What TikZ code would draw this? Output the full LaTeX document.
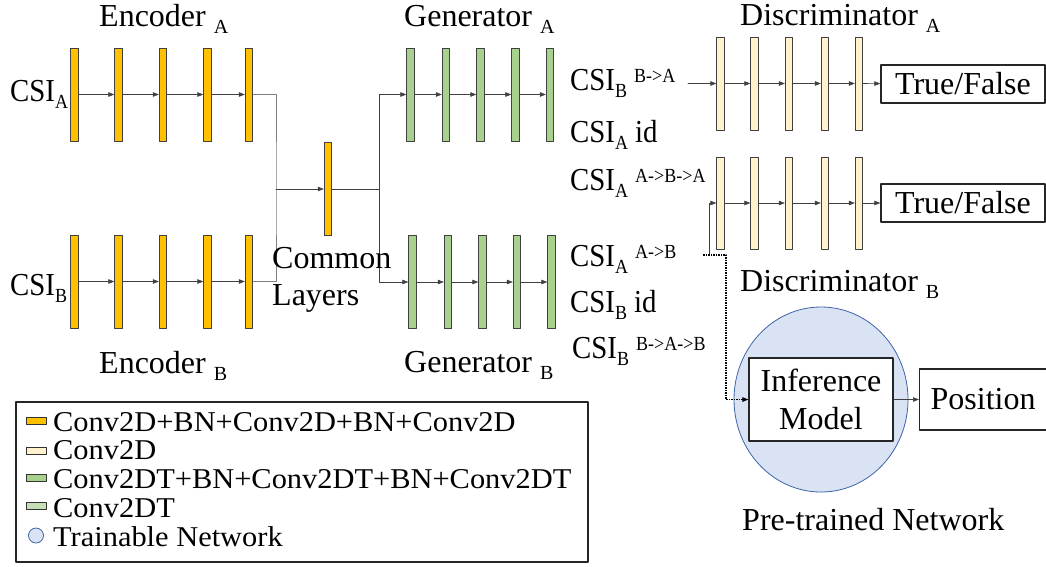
\documentclass[tikz,border=0pt]{standalone}
\usepackage{fontspec}
\setmainfont{Liberation Serif}
\newfontfamily\narrowfont{Liberation Serif}[FakeStretch=0.9]
\newfontfamily\legendfont{Liberation Serif}[FakeStretch=1.06]
\usetikzlibrary{arrows.meta,shapes.geometric}
\definecolor{encyellow}{HTML}{FFC000}
\definecolor{discyellow}{HTML}{FFF2CC}
\definecolor{gengreen}{HTML}{A9D18E}
\definecolor{lightgreen}{HTML}{C5E0B4}
\definecolor{netblue}{HTML}{DAE3F3}
\definecolor{netedge}{HTML}{3E64AA}
\newcommand{\labelsize}{\fontsize{32}{37.7}\selectfont}
\newcommand{\legendsize}{\fontsize{28.7}{28.7}\selectfont}
\newcommand{\subtxt}[1]{\raisebox{-7pt}{\fontsize{20}{20}\selectfont #1}}
\newcommand{\suptxt}[1]{\raisebox{8pt}{\fontsize{20}{20}\selectfont #1}}

\begin{document}
\begin{tikzpicture}[line cap=round,line join=round,>={Triangle[length=6pt,width=4.5pt]},x=1pt,y=-1pt,
	bar/.style={draw=black!75,line width=0.8pt,minimum width=7.5pt,minimum height=93pt,inner sep=0pt},
	encbar/.style={bar,fill=encyellow},
	genbar/.style={bar,fill=gengreen},
	discbar/.style={bar,fill=discyellow},
	link/.style={draw=black!75,line width=0.6pt},
	feed/.style={draw=black!50,line width=0.8pt},
	dotline/.style={draw=black,line width=1.5pt,densely dotted,line cap=butt},
	outbox/.style={draw=black!85,line width=1.3pt,fill=white,font=\labelsize,inner sep=0pt},
	lbl/.style={font=\labelsize,inner sep=0pt,anchor=base west},
	csi/.style={font=\narrowfont\labelsize,inner sep=0pt,anchor=base west},
	legendmark/.style={draw=black!80,line width=0.8pt,minimum width=20pt,minimum height=7pt,inner sep=0pt},
	legendtxt/.style={font=\legendfont\legendsize,inner sep=0pt,anchor=base west}]
			\useasboundingbox (0,0) rectangle (1046,566);
			\clip (0,0) rectangle (1046,566);
			% encoders
			\node[encbar] (encA1) at (74.5,94.5) {};
			\node[encbar] (encA2) at (118.5,94.5) {};
			\node[encbar] (encA3) at (163,94.5) {};
			\node[encbar] (encA4) at (207.5,94.5) {};
			\node[encbar] (encA5) at (249,94.5) {};
			\node[encbar] (encB1) at (74.5,281.5) {};
			\node[encbar] (encB2) at (118.5,281.5) {};
			\node[encbar] (encB3) at (163,281.5) {};
			\node[encbar] (encB4) at (207.5,281.5) {};
			\node[encbar] (encB5) at (249,281.5) {};
			\path (encA1) edge[link,->] (encA2) (encA2) edge[link,->] (encA3) (encA3) edge[link,->] (encA4) (encA4) edge[link,->] (encA5);
			\path (encB1) edge[link,->] (encB2) (encB2) edge[link,->] (encB3) (encB3) edge[link,->] (encB4) (encB4) edge[link,->] (encB5);
			% generators
			\node[genbar] (genA1) at (410.5,94.5) {};
			\node[genbar] (genA2) at (446,94.5) {};
			\node[genbar] (genA3) at (480.5,94.5) {};
			\node[genbar] (genA4) at (515.5,94.5) {};
			\node[genbar] (genA5) at (550,94.5) {};
			\node[genbar] (genB1) at (412.5,282) {};
			\node[genbar] (genB2) at (448,282) {};
			\node[genbar] (genB3) at (482.5,282) {};
			\node[genbar] (genB4) at (517,282) {};
			\node[genbar] (genB5) at (551.5,282) {};
			\path (genA1) edge[link,->] (genA2) (genA2) edge[link,->] (genA3) (genA3) edge[link,->] (genA4) (genA4) edge[link,->] (genA5);
			\path (genB1) edge[link,->] (genB2) (genB2) edge[link,->] (genB3) (genB3) edge[link,->] (genB4) (genB4) edge[link,->] (genB5);
			% common layers
			\node[encbar] (common) at (328,189) {};
			\coordinate (encjoin) at (276,189);
			\coordinate (genfork) at (379,189);
			\draw[feed] (encA5.east) -| (encjoin) |- (encB5.east);
			\draw[link,->] (encjoin) -- (common);
			\draw[link] (common) -- (genfork);
			\draw[link,->] (genfork) |- (genA1);
			\draw[link,->] (genfork) |- (genB1);
			% discriminators
			\node[discbar] (discA1) at (720.5,83.5) {};
			\node[discbar] (discA2) at (754.5,83.5) {};
			\node[discbar] (discA3) at (789,83.5) {};
			\node[discbar] (discA4) at (825,83.5) {};
			\node[discbar] (discA5) at (859,83.5) {};
			\node[discbar,minimum height=92pt] (discB1) at (720.5,203) {};
			\node[discbar,minimum height=92pt] (discB2) at (754.5,203) {};
			\node[discbar,minimum height=92pt] (discB3) at (789,203) {};
			\node[discbar,minimum height=92pt] (discB4) at (825,203) {};
			\node[discbar,minimum height=92pt] (discB5) at (859,203) {};
			\path (discA1) edge[link,->] (discA2) (discA2) edge[link,->] (discA3) (discA3) edge[link,->] (discA4) (discA4) edge[link,->] (discA5);
			\path (discB1) edge[link,->] (discB2) (discB2) edge[link,->] (discB3) (discB3) edge[link,->] (discB4) (discB4) edge[link,->] (discB5);
			\node[outbox,minimum width=164pt,minimum height=38pt] (tfA) at (963,84) {True/False};
			\node[outbox,minimum width=164pt,minimum height=38pt] (tfB) at (963,203) {True/False};
			\draw[link,->] (discA5) -- (tfA);
			\draw[link,->] (discB5) -- (tfB);
			\coordinate (dAin) at (688,83.5);
			\coordinate (dBin) at (709,255);
			\coordinate (about) at (703,255);
			\coordinate (dotturn) at (726,399.5);
			\draw[link,->] (dAin) -- (discA1);
			\draw[link,->] (dBin) |- (discB1);
			% pre-trained network
			\node[ellipse,draw=netedge,line width=0.8pt,fill=netblue,minimum width=174pt,minimum height=185pt] (pretrained) at (821,399.5) {};
			\node[outbox,align=center,minimum width=144pt,minimum height=83pt] (inference) at (821,399.5) {Inference\\Model};
			\node[outbox,anchor=west,minimum height=61pt,inner xsep=11pt] (position) at (919,399.5) {Position};
			\draw[dotline,->] (about) -| (dotturn) -- (inference);
			\draw[link,->] (inference) -- (position);
			% labels
			\node[lbl] (encAlabel) at (99,26) {Encoder \subtxt{A}};
			\node[lbl] (encBlabel) at (99,373) {Encoder \subtxt{B}};
			\node[lbl] (genAlabel) at (404,26) {Generator \subtxt{A}};
			\node[lbl] (genBlabel) at (404,372) {Generator \subtxt{B}};
			\node[lbl] (discAlabel) at (740,25) {Discriminator \subtxt{A}};
			\node[lbl] (discBlabel) at (740,291) {Discriminator \subtxt{B}};
			\node[lbl] (pretrainlabel) at (742,530) {Pre-trained Network};
			\node[lbl] (commonlabel) at (272,268) {Common};
			\node[lbl] (layerslabel) at (272,305) {Layers};
			\node[csi] (csiA) at (10,101) {CSI\subtxt{A}};
			\node[csi] (csiB) at (10,295) {CSI\subtxt{B}};
			\node[csi] (csiBA) at (570,90) {CSI\subtxt{B} \suptxt{B->A}};
			\node[csi] (csiAid) at (570,142) {CSI\subtxt{A} id};
			\node[csi] (csiABA) at (570,190) {CSI\subtxt{A} \suptxt{A->B->A}};
			\node[csi] (csiAB) at (570,266.5) {CSI\subtxt{A} \suptxt{A->B}};
			\node[csi] (csiBid) at (570,312) {CSI\subtxt{B} id};
			\node[csi] (csiBAB) at (572,358.5) {CSI\subtxt{B} \suptxt{B->A->B}};
			% legend
			\node[draw=black!85,line width=1.5pt,minimum width=572pt,minimum height=160pt,anchor=north west] (legend) at (15,401) {};
			\node[legendmark,fill=encyellow] (mark1) at (36,420.5) {};
			\node[legendmark,fill=discyellow] (mark2) at (36,451) {};
			\node[legendmark,fill=gengreen] (mark3) at (36,478) {};
			\node[legendmark,fill=lightgreen] (mark4) at (36,506) {};
			\node[circle,draw=netedge,line width=0.8pt,fill=netblue,minimum size=15pt,inner sep=0pt] (mark5) at (36,535.5) {};
			\node[legendtxt] (item1) at (53,431) {Conv2D+BN+Conv2D+BN+Conv2D};
			\node[legendtxt] (item2) at (53,459.7) {Conv2D};
			\node[legendtxt] (item3) at (53,488.4) {Conv2DT+BN+Conv2DT+BN+Conv2DT};
			\node[legendtxt] (item4) at (53,517) {Conv2DT};
			\node[legendtxt] (item5) at (53,546) {Trainable Network};
\end{tikzpicture}
\end{document}
